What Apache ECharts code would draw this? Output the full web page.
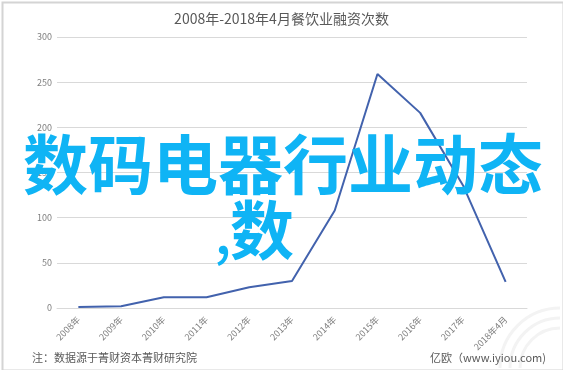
<!DOCTYPE html>
<html>
<head>
<meta charset="utf-8">
<script src="https://cdn.jsdelivr.net/npm/echarts@6/dist/echarts.min.js"></script>
<style>
html,body{margin:0;padding:0;background:#fff;}
#main{width:563px;height:370px;}
</style>
</head>
<body>
<div id="main"></div>
<script>
var categories = ['2008年','2009年','2010年','2011年','2012年','2013年','2014年','2015年','2016年','2017年','2018年4月'];
var counts = [1, 2, 12, 12, 23, 30, 108, 259, 216, 136, 29];
var yTicks = {min: 0, max: 300, interval: 50};
var titleText = '2008年-2018年4月餐饮业融资次数';
var noteText = '注：数据源于菁财资本菁财研究院';
var sourceText = '亿欧（www.iyiou.com)';
var overlayLine1 = '数码电器行业动态';
var overlayLine2a = ',';
var overlayLine2b = '数';

var chart = echarts.init(document.getElementById('main'), null, {renderer: 'canvas'});
var cjk = '"Noto Sans CJK SC", "Noto Sans", sans-serif';
chart.setOption({
  backgroundColor: '#ffffff',
  animation: false,
  title: {
    text: titleText,
    left: 'center',
    top: 7,
    textStyle: {fontFamily: cjk, fontSize: 14, fontWeight: 'normal', color: '#595959'}
  },
  grid: {left: 57, right: 36, top: 37, bottom: 62, containLabel: false},
  xAxis: {
    type: 'category',
    data: categories,
    boundaryGap: true,
    axisLine: {lineStyle: {color: '#d9d9d9', width: 1}},
    axisTick: {show: false},
    axisLabel: {rotate: 45, fontSize: 9, color: '#7f7f7f', margin: 10, interval: 0, fontFamily: cjk}
  },
  yAxis: {
    type: 'value',
    min: yTicks.min,
    max: yTicks.max,
    interval: yTicks.interval,
    axisLine: {show: false},
    axisTick: {show: false},
    splitLine: {lineStyle: {color: '#d9d9d9', width: 1}},
    axisLabel: {fontSize: 9, color: '#7f7f7f', margin: 5, fontFamily: cjk}
  },
  series: [{
    type: 'line',
    data: counts,
    symbol: 'none',
    lineStyle: {color: '#4262ad', width: 2},
    z: 2
  }],
  graphic: [
    {type: 'rect', left: 0, top: 0, z: -1, silent: true,
     shape: {x: 0, y: 0, width: 561, height: 368},
     style: {fill: 'none', stroke: '#d4d4d4', lineWidth: 2}},
    {type: 'arc', z: -1, silent: true, shape: {cx: 560, cy: 368, r: 60, startAngle: Math.PI, endAngle: Math.PI * 1.5},
     style: {fill: 'none', stroke: '#f3f3f3', lineWidth: 3}},
    {type: 'arc', z: -1, silent: true, shape: {cx: 560, cy: 368, r: 50, startAngle: Math.PI, endAngle: Math.PI * 1.5},
     style: {fill: 'none', stroke: '#f3f3f3', lineWidth: 3}},
    {type: 'arc', z: -1, silent: true, shape: {cx: 560, cy: 368, r: 40, startAngle: Math.PI, endAngle: Math.PI * 1.5},
     style: {fill: 'none', stroke: '#f3f3f3', lineWidth: 3}},
    {type: 'text', left: 32, top: 352, z: 10,
     style: {text: noteText, font: '11px ' + cjk, fill: '#595959'}},
    {type: 'text', right: 17, top: 352, z: 10,
     style: {text: sourceText, font: '11px ' + cjk, fill: '#595959'}},
    {type: 'text', z: 100, silent: true,
     style: {text: overlayLine1, x: 23, y: 164, textVerticalAlign: 'middle', textAlign: 'left',
             font: 'bold 65px ' + cjk, fill: '#0fb4f5'}},
    {type: 'text', z: 100, silent: true,
     style: {text: overlayLine2a, x: 214, y: 230, textVerticalAlign: 'middle', textAlign: 'left',
             font: '64px ' + cjk, fill: '#0fb4f5'}},
    {type: 'text', z: 100, silent: true,
     style: {text: overlayLine2b, x: 230, y: 230, textVerticalAlign: 'middle', textAlign: 'left',
             font: 'bold 64px ' + cjk, fill: '#0fb4f5'}}
  ]
});
</script>
</body>
</html>
